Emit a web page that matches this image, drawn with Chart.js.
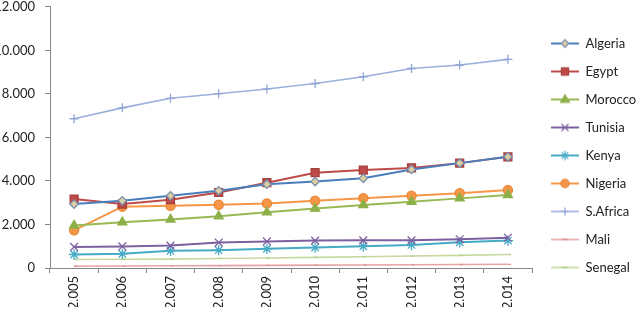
<!DOCTYPE html>
<html>
<head>
<meta charset="utf-8">
<script src="https://cdn.jsdelivr.net/npm/chart.js@4/dist/chart.umd.min.js"></script>
<style>
  html, body { margin: 0; padding: 0; background: #fff; overflow: hidden; }
  #wrap { position: absolute; left: 0; top: 0; width: 636px; height: 317px; }
</style>
</head>
<body>
<div id="wrap"><canvas id="c" width="636" height="317"></canvas></div>
<script>
const categories = ['2.005','2.006','2.007','2.008','2.009','2.010','2.011','2.012','2.013','2.014'];
const seriesNames = ['Algeria','Egypt','Morocco','Tunisia','Kenya','Nigeria','S.Africa','Mali','Senegal'];
const algeria  = [2940, 3090, 3320, 3550, 3850, 3970, 4120, 4530, 4820, 5110];
const egypt    = [3170, 2940, 3140, 3470, 3920, 4380, 4500, 4600, 4820, 5110];
const morocco  = [1950, 2100, 2230, 2380, 2560, 2730, 2890, 3050, 3200, 3360];
const tunisia  = [970, 990, 1030, 1170, 1220, 1260, 1270, 1270, 1320, 1390];
const kenya    = [620, 650, 790, 820, 880, 940, 1000, 1060, 1180, 1260];
const nigeria  = [1730, 2820, 2860, 2910, 2970, 3090, 3210, 3320, 3440, 3580];
const safrica  = [6860, 7360, 7800, 8010, 8230, 8480, 8790, 9170, 9330, 9590];
const mali     = [80, 90, 100, 110, 120, 130, 140, 150, 160, 170];
const senegal  = [390, 400, 410, 440, 460, 490, 520, 550, 580, 620];
const yTicks   = [0, 2000, 4000, 6000, 8000, 10000, 12000];

const seriesValues = [algeria, egypt, morocco, tunisia, kenya, nigeria, safrica, mali, senegal];
const styles = [
  {line:'#4A7EBB', fill:'#DCCFA0', stroke:'#7A8FB0', shape:'rectRot', r:4.2, w:2},
  {line:'#BE4B48', fill:'#BE4B48', stroke:'#A8403D', shape:'rect', r:5.6, w:2},
  {line:'#98B954', fill:'#8DB048', stroke:'#8DB048', shape:'triangle', r:5.2, w:2},
  {line:'#7D60A0', fill:'#7D60A0', stroke:'#7D60A0', shape:'crossRot', r:5.5, w:2},
  {line:'#46AAC5', fill:'#46AAC5', stroke:'#46AAC5', shape:'star', r:5.2, w:2},
  {line:'#F79646', fill:'#F79646', stroke:'#E8883A', shape:'circle', r:4.6, w:2},
  {line:'#9BB0DC', fill:'#9BB0DC', stroke:'#8EA5D6', shape:'cross', r:4.5, w:1.6},
  {line:'#E6A5A4', fill:'#E6A5A4', stroke:'#D99594', shape:'dash', r:3, w:1.6},
  {line:'#C6D9A0', fill:'#C6D9A0', stroke:'#B5CC88', shape:'dash', r:3, w:1.6}
];

function drawMarker(ctx, shape, x, y, r, fill, stroke) {
  ctx.fillStyle = fill; ctx.strokeStyle = stroke; ctx.lineWidth = 1.2;
  ctx.beginPath();
  const s = r * Math.SQRT1_2;
  switch (shape) {
    case 'rect': ctx.rect(x - s, y - s, 2*s, 2*s); ctx.fill(); ctx.stroke(); break;
    case 'rectRot': ctx.moveTo(x, y - r); ctx.lineTo(x + r, y); ctx.lineTo(x, y + r); ctx.lineTo(x - r, y); ctx.closePath(); ctx.fill(); ctx.stroke(); break;
    case 'circle': ctx.arc(x, y, r, 0, Math.PI*2); ctx.fill(); ctx.stroke(); break;
    case 'triangle': ctx.moveTo(x, y - r); ctx.lineTo(x + r*0.95, y + r*0.6); ctx.lineTo(x - r*0.95, y + r*0.6); ctx.closePath(); ctx.fill(); ctx.stroke(); break;
    case 'crossRot': ctx.moveTo(x-s,y-s); ctx.lineTo(x+s,y+s); ctx.moveTo(x+s,y-s); ctx.lineTo(x-s,y+s); ctx.stroke(); break;
    case 'star': ctx.moveTo(x-s,y-s); ctx.lineTo(x+s,y+s); ctx.moveTo(x+s,y-s); ctx.lineTo(x-s,y+s); ctx.moveTo(x,y-r); ctx.lineTo(x,y+r); ctx.stroke(); break;
    case 'cross': ctx.moveTo(x-r,y); ctx.lineTo(x+r,y); ctx.moveTo(x,y-r); ctx.lineTo(x,y+r); ctx.stroke(); break;
    case 'dash': ctx.lineWidth = 2; ctx.moveTo(x-r,y); ctx.lineTo(x+r,y); ctx.stroke(); break;
  }
}

function legendImage(st) {
  const c = document.createElement('canvas');
  c.width = 32; c.height = 14;
  const ctx = c.getContext('2d');
  ctx.strokeStyle = st.line; ctx.lineWidth = st.w;
  ctx.beginPath(); ctx.moveTo(4, 7); ctx.lineTo(32, 7); ctx.stroke();
  drawMarker(ctx, st.shape, 18, 7, st.r * 0.9, st.fill, st.stroke);
  return c;
}
const legendImgs = styles.map(legendImage);

const datasets = seriesNames.map((name, i) => ({
  label: name,
  data: seriesValues[i],
  borderColor: styles[i].line,
  backgroundColor: styles[i].fill,
  borderWidth: styles[i].w,
  pointStyle: styles[i].shape,
  pointRadius: styles[i].r,
  pointBackgroundColor: styles[i].fill,
  pointBorderColor: styles[i].stroke,
  pointBorderWidth: 1.3,
  tension: 0,
  fill: false
}));

const FONT = {family: 'Lato', size: 13};
const AX = '#868686';

new Chart(document.getElementById('c'), {
  type: 'line',
  data: { labels: categories, datasets },
  options: {
    responsive: false,
    animation: false,
    layout: { padding: { top: 4, bottom: 10, left: 0, right: 0 } },
    plugins: {
      tooltip: { enabled: false },
      legend: {
        position: 'right',
        maxWidth: 104,
        labels: {
          font: FONT,
          color: '#222',
          padding: 15,
          usePointStyle: true,
          pointStyleWidth: 32,
          boxHeight: 13,
          generateLabels: (chart) => seriesNames.map((name, i) => ({
            text: name,
            fillStyle: styles[i].fill,
            strokeStyle: styles[i].line,
            lineWidth: 0,
            pointStyle: legendImgs[i],
            hidden: false,
            datasetIndex: i,
            fontColor: '#222'
          }))
        }
      }
    },
    scales: {
      x: {
        type: 'category',
        offset: true,
        grid: { offset: true, drawOnChartArea: false, drawTicks: true, tickLength: 5, color: AX },
        border: { display: true, color: AX, width: 1 },
        ticks: { minRotation: 90, maxRotation: 90, padding: 3, font: FONT, color: '#222', autoSkip: false },
        afterFit: (s) => { s.height = 39; s.paddingLeft = 0; s.paddingRight = 0; }
      },
      y: {
        min: 0, max: 12000,
        afterBuildTicks: (s) => { s.ticks = yTicks.map(v => ({value: v})); },
        grid: { drawOnChartArea: false, drawTicks: true, tickLength: 5, color: AX },
        border: { display: true, color: AX, width: 1 },
        ticks: {
          padding: 10, font: FONT, color: '#222',
          callback: (v) => v === 0 ? '0' : (v / 1000).toFixed(3)
        },
        afterFit: (s) => { s.width = 50; s.paddingTop = 0; s.paddingBottom = 0; }
      }
    }
  }
});
</script>
</body>
</html>
